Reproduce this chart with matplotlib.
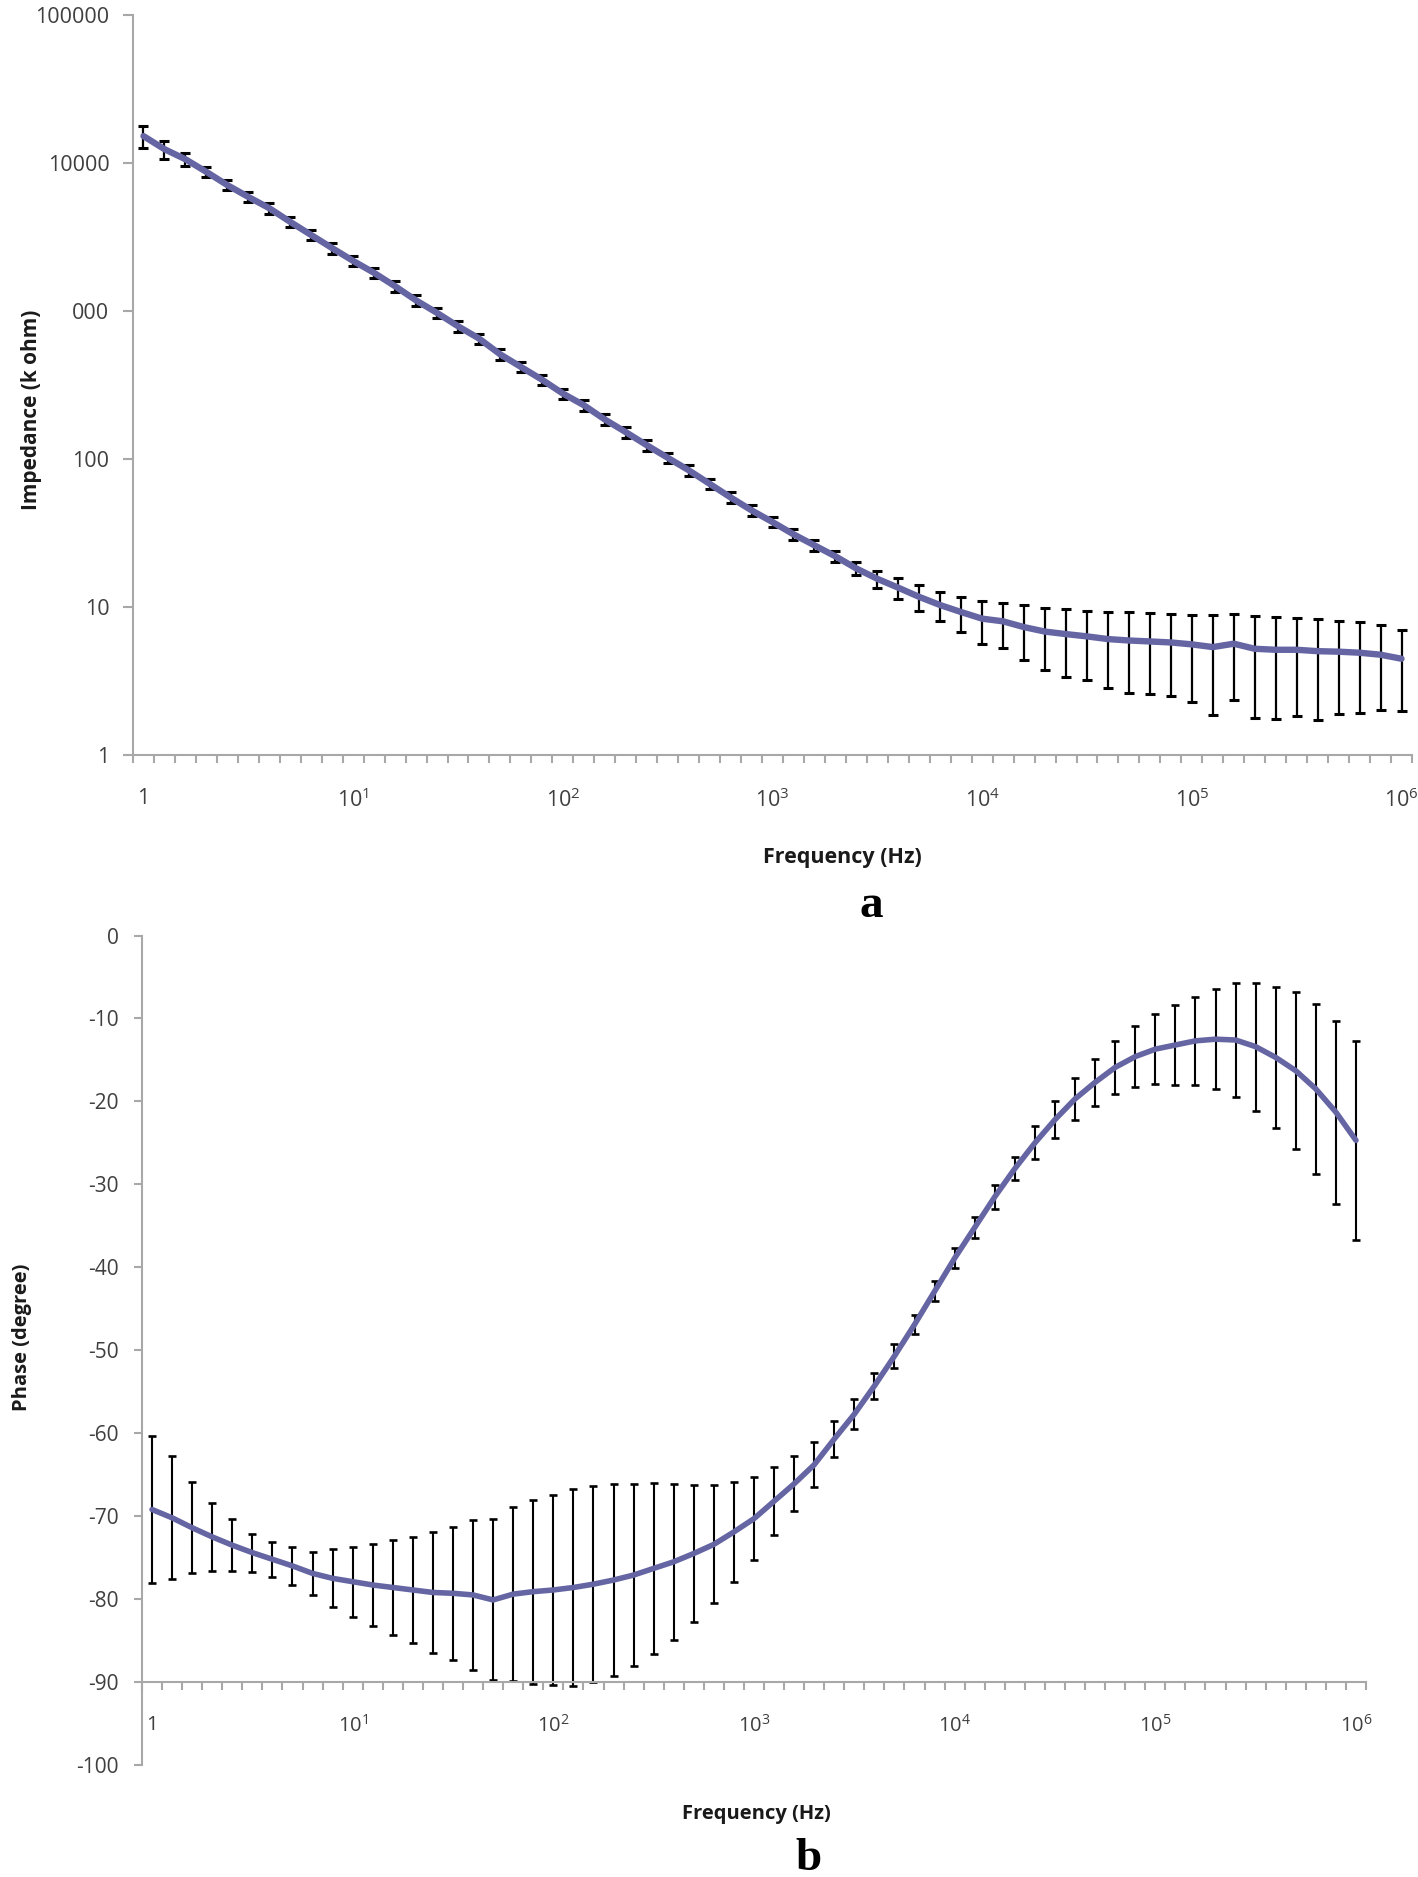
import matplotlib
matplotlib.use("Agg")
import matplotlib.pyplot as plt
import numpy as np

plt.rcParams['font.family'] = ['Open Sans', 'DejaVu Sans']
plt.rcParams['mathtext.fontset'] = 'custom'
plt.rcParams['mathtext.rm'] = 'Open Sans'
plt.rcParams['mathtext.it'] = 'Open Sans:italic'
plt.rcParams['mathtext.bf'] = 'Open Sans:bold'
plt.rcParams['axes.unicode_minus'] = False

# ---------------- data ----------------
freq_tick_labels = ['1', r'$\mathregular{10^{1}}$', r'$\mathregular{10^{2}}$', r'$\mathregular{10^{3}}$',
                    r'$\mathregular{10^{4}}$', r'$\mathregular{10^{5}}$', r'$\mathregular{10^{6}}$']
freq_tick_index = [0, 10, 20, 30, 40, 50, 60]

impedance_yticks = [1, 10, 100, 1000, 10000, 100000]
impedance_ytick_labels = ['1', '10', '100', '000', '10000', '100000']

impedance = [15200, 12400, 10600, 8710, 7090, 5900, 4950, 4000, 3260, 2660,
             2180, 1810, 1470, 1180, 971, 789, 652, 511, 419, 344,
             277, 231, 185, 152, 124, 102, 84, 68, 55, 45,
             37.5, 31, 26.1, 22, 18.2, 15.5, 13.5, 11.7, 10.3, 9.24,
             8.34, 8.0, 7.31, 6.82, 6.56, 6.33, 6.07, 5.94, 5.85, 5.76,
             5.59, 5.36, 5.65, 5.22, 5.14, 5.14, 5.03, 4.99, 4.91, 4.76,
             4.47]
impedance_err = [2600, 1700, 1100, 700, 570, 470, 400, 320, 260, 215,
                 175, 145, 118, 95, 78, 63, 52, 41, 34, 28,
                 22, 18.5, 15, 12.3, 10, 8.2, 6.7, 5.5, 4.4, 3.6,
                 3.0, 2.5, 2.1, 1.8, 1.8, 2.1, 2.1, 2.3, 2.3, 2.5,
                 2.7, 2.7, 2.95, 3.05, 3.2, 3.1, 3.25, 3.3, 3.25, 3.25,
                 3.3, 3.5, 3.3, 3.45, 3.4, 3.3, 3.3, 3.1, 3.0, 2.75,
                 2.5]

phase = [-69.2, -70.2, -71.4, -72.5, -73.5, -74.4, -75.2, -76.0, -76.9, -77.5,
         -77.9, -78.3, -78.6, -78.9, -79.2, -79.3, -79.5, -80.1, -79.4, -79.1,
         -78.9, -78.6, -78.2, -77.7, -77.1, -76.3, -75.5, -74.5, -73.4, -71.9,
         -70.3, -68.2, -66.1, -63.8, -60.7, -57.7, -54.3, -50.7, -46.9, -42.9,
         -38.9, -35.2, -31.5, -28.1, -25.0, -22.2, -19.7, -17.7, -15.9, -14.6,
         -13.7, -13.2, -12.7, -12.5, -12.6, -13.4, -14.7, -16.3, -18.5, -21.3,
         -24.7]
phase_err = [8.9, 7.4, 5.5, 4.1, 3.1, 2.3, 2.1, 2.3, 2.6, 3.5,
             4.2, 5.0, 5.7, 6.4, 7.3, 8.0, 9.0, 9.7, 10.5, 11.1,
             11.5, 11.9, 11.8, 11.6, 11.0, 10.3, 9.4, 8.3, 7.1, 6.0,
             5.0, 4.1, 3.3, 2.7, 2.2, 1.8, 1.6, 1.4, 1.2, 1.2,
             1.2, 1.3, 1.45, 1.4, 2.0, 2.25, 2.55, 2.8, 3.15, 3.7,
             4.25, 4.8, 5.3, 6.0, 6.9, 7.7, 8.55, 9.45, 10.25, 11.05,
             12.0]
phase_yticks = [0, -10, -20, -30, -40, -50, -60, -70, -80, -90, -100]

# ---------------- style ----------------
LINE = '#6565A4'
AXC = '#A8A8A8'
TXT = '#3F3F3F'
W, H = 1418, 1877

fig = plt.figure(figsize=(W / 100, H / 100), dpi=100)
fig.patch.set_facecolor('white')


def style_axes(ax):
    for s in ['top', 'right']:
        ax.spines[s].set_visible(False)
    for s in ['left', 'bottom']:
        ax.spines[s].set_color(AXC)
        ax.spines[s].set_linewidth(1.5)


# ---------------- panel a ----------------
a_l, a_r, a_t, a_b = 133, 1412, 15, 755
ax1 = fig.add_axes([a_l / W, 1 - a_b / H, (a_r - a_l) / W, (a_b - a_t) / H])
x1 = np.arange(len(impedance))
ax1.errorbar(x1, impedance, yerr=impedance_err, fmt='none', ecolor='black',
             elinewidth=1.6, capsize=3.8, capthick=2.2, zorder=2)
ax1.plot(x1, impedance, color=LINE, lw=4.6, solid_capstyle='round', zorder=3)
ax1.set_yscale('log')
ax1.set_ylim(1, 100000)
ax1.set_xlim(-0.5, len(impedance) - 0.5)
ax1.set_yticks(impedance_yticks)
ax1.set_yticklabels(impedance_ytick_labels)
ax1.yaxis.set_minor_locator(matplotlib.ticker.NullLocator())
ax1.set_xticks(freq_tick_index)
ax1.set_xticklabels(freq_tick_labels)
ax1.set_xticks(np.arange(-0.5, len(impedance)), minor=True)
style_axes(ax1)
ax1.tick_params(axis='y', which='major', direction='out', length=7, width=1.5,
                color=AXC, labelsize=15.5, labelcolor=TXT, pad=10)
ax1.tick_params(axis='x', which='major', length=0, labelsize=15.5, labelcolor=TXT, pad=24)
ax1.tick_params(axis='x', which='minor', direction='out', length=6, width=1.5, color=AXC)
ax1.set_ylabel('Impedance (k ohm)', fontsize=15, fontweight='bold', color='#1A1A1A')
ax1.yaxis.set_label_coords(-(a_l - 42) / (a_r - a_l), (a_b - 410) / (a_b - a_t))
ax1.set_xlabel('Frequency (Hz)', fontsize=15.5, fontweight='bold', color='#1A1A1A')
ax1.xaxis.set_label_coords((842 - a_l) / (a_r - a_l), -(857 - a_b) / (a_b - a_t))
ax1.xaxis.label.set_va('center')

fig.text(871 / W, 1 - 906 / H, 'a', fontsize=34, fontweight='bold',
         family=['Liberation Serif', 'DejaVu Serif'], ha='center', va='center', color='black')

# ---------------- panel b ----------------
b_l, b_r, b_t, b_b = 142, 1366, 935.5, 1765
ax2 = fig.add_axes([b_l / W, 1 - b_b / H, (b_r - b_l) / W, (b_b - b_t) / H])
x2 = np.arange(len(phase))
ax2.errorbar(x2, phase, yerr=phase_err, fmt='none', ecolor='black',
             elinewidth=1.5, capsize=3.2, capthick=1.9, zorder=2)
ax2.plot(x2, phase, color=LINE, lw=4.0, solid_capstyle='round', zorder=3)
ax2.set_ylim(-100, 0)
ax2.set_xlim(-0.5, len(phase) - 0.5)
ax2.set_yticks(phase_yticks)
ax2.set_xticks(freq_tick_index)
ax2.set_xticklabels(freq_tick_labels)
ax2.set_xticks(np.arange(-0.5, len(phase)), minor=True)
style_axes(ax2)
ax2.spines['bottom'].set_position(('data', -90))
ax2.tick_params(axis='y', which='major', direction='out', length=6, width=1.5,
                color=AXC, labelsize=15, labelcolor=TXT, pad=11)
ax2.tick_params(axis='x', which='major', length=0, labelsize=14.5, labelcolor=TXT, pad=24)
ax2.tick_params(axis='x', which='minor', direction='out', length=6, width=1.5, color=AXC)
ax2.set_ylabel('Phase (degree)', fontsize=14.5, fontweight='bold', color='#1A1A1A')
ax2.yaxis.set_label_coords(-(b_l - 32) / (b_r - b_l), (b_b - 1337) / (b_b - b_t))
ax2.set_xlabel('Frequency (Hz)', fontsize=14.5, fontweight='bold', color='#1A1A1A')
ax2.xaxis.set_label_coords((756 - b_l) / (b_r - b_l), -(1814 - b_b) / (b_b - b_t))
ax2.xaxis.label.set_va('center')

fig.text(809 / W, 1 - 1870 / H, 'b', fontsize=34, fontweight='bold',
         family=['Liberation Serif', 'DejaVu Serif'], ha='center', va='baseline', color='black')

fig.savefig('out.png', dpi=100, facecolor='white')
